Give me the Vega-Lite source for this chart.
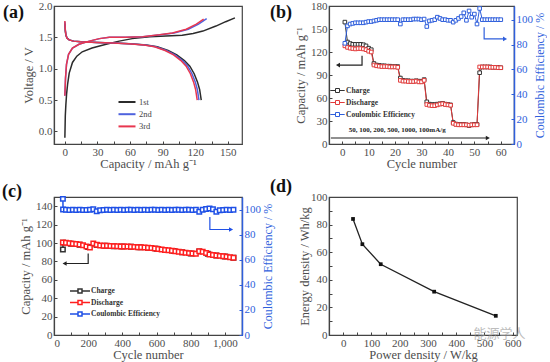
{
 "$schema": "https://vega.github.io/schema/vega-lite/v6.json",
 "background": "white",
 "padding": {"left": 1, "top": -1, "right": 0, "bottom": 0},
 "columns": 2,
 "spacing": {"row": 6, "column": -6},
 "resolve": {"scale": {"stroke": "independent", "color": "independent"}, "legend": {"stroke": "independent", "color": "independent"}},
 "datasets": {
  "a": [
   {"c":"1st","s":"1c","i":0,"x":0,"v":-0.1},{"c":"1st","s":"1c","i":1,"x":0.4,"v":0.25},{"c":"1st","s":"1c","i":2,"x":0.9,"v":0.42},{"c":"1st","s":"1c","i":3,"x":1.6,"v":0.6},{"c":"1st","s":"1c","i":4,"x":2.5,"v":0.75},{"c":"1st","s":"1c","i":5,"x":4,"v":0.93},{"c":"1st","s":"1c","i":6,"x":7,"v":1.1},{"c":"1st","s":"1c","i":7,"x":11,"v":1.2},{"c":"1st","s":"1c","i":8,"x":16,"v":1.27},{"c":"1st","s":"1c","i":9,"x":25,"v":1.33},{"c":"1st","s":"1c","i":10,"x":38,"v":1.39},{"c":"1st","s":"1c","i":11,"x":50,"v":1.44},{"c":"1st","s":"1c","i":12,"x":62,"v":1.48},{"c":"1st","s":"1c","i":13,"x":78,"v":1.51},{"c":"1st","s":"1c","i":14,"x":93,"v":1.52},{"c":"1st","s":"1c","i":15,"x":108,"v":1.535},{"c":"1st","s":"1c","i":16,"x":118,"v":1.56},{"c":"1st","s":"1c","i":17,"x":127,"v":1.6},{"c":"1st","s":"1c","i":18,"x":139,"v":1.68},{"c":"1st","s":"1c","i":19,"x":148,"v":1.75},{"c":"1st","s":"1c","i":20,"x":156.5,"v":1.81},
   {"c":"1st","s":"1d","i":0,"x":0,"v":1.72},{"c":"1st","s":"1d","i":1,"x":0.4,"v":1.6},{"c":"1st","s":"1d","i":2,"x":1,"v":1.53},{"c":"1st","s":"1d","i":3,"x":2,"v":1.49},{"c":"1st","s":"1d","i":4,"x":4,"v":1.46},{"c":"1st","s":"1d","i":5,"x":8,"v":1.44},{"c":"1st","s":"1d","i":6,"x":15,"v":1.43},{"c":"1st","s":"1d","i":7,"x":30,"v":1.42},{"c":"1st","s":"1d","i":8,"x":45,"v":1.41},{"c":"1st","s":"1d","i":9,"x":60,"v":1.4},{"c":"1st","s":"1d","i":10,"x":75,"v":1.38},{"c":"1st","s":"1d","i":11,"x":85,"v":1.35},{"c":"1st","s":"1d","i":12,"x":95,"v":1.29},{"c":"1st","s":"1d","i":13,"x":103,"v":1.22},{"c":"1st","s":"1d","i":14,"x":110,"v":1.13},{"c":"1st","s":"1d","i":15,"x":115,"v":1.04},{"c":"1st","s":"1d","i":16,"x":119,"v":0.92},{"c":"1st","s":"1d","i":17,"x":122,"v":0.79},{"c":"1st","s":"1d","i":18,"x":124,"v":0.67},{"c":"1st","s":"1d","i":19,"x":125.5,"v":0.5},
   {"c":"2nd","s":"2c","i":0,"x":0,"v":0.57},{"c":"2nd","s":"2c","i":1,"x":0.6,"v":0.85},{"c":"2nd","s":"2c","i":2,"x":1.5,"v":1.07},{"c":"2nd","s":"2c","i":3,"x":3.4,"v":1.23},{"c":"2nd","s":"2c","i":4,"x":7,"v":1.33},{"c":"2nd","s":"2c","i":5,"x":13,"v":1.39},{"c":"2nd","s":"2c","i":6,"x":22.5,"v":1.44},{"c":"2nd","s":"2c","i":7,"x":32,"v":1.48},{"c":"2nd","s":"2c","i":8,"x":41,"v":1.5},{"c":"2nd","s":"2c","i":9,"x":56,"v":1.5},{"c":"2nd","s":"2c","i":10,"x":72,"v":1.51},{"c":"2nd","s":"2c","i":11,"x":88,"v":1.54},{"c":"2nd","s":"2c","i":12,"x":100.5,"v":1.57},{"c":"2nd","s":"2c","i":13,"x":113.5,"v":1.63},{"c":"2nd","s":"2c","i":14,"x":123,"v":1.71},{"c":"2nd","s":"2c","i":15,"x":130.5,"v":1.8},
   {"c":"2nd","s":"2d","i":0,"x":0,"v":1.75},{"c":"2nd","s":"2d","i":1,"x":0.4,"v":1.62},{"c":"2nd","s":"2d","i":2,"x":1,"v":1.54},{"c":"2nd","s":"2d","i":3,"x":2,"v":1.49},{"c":"2nd","s":"2d","i":4,"x":3.9,"v":1.46},{"c":"2nd","s":"2d","i":5,"x":7.9,"v":1.44},{"c":"2nd","s":"2d","i":6,"x":14.7,"v":1.43},{"c":"2nd","s":"2d","i":7,"x":29.5,"v":1.42},{"c":"2nd","s":"2d","i":8,"x":44.2,"v":1.41},{"c":"2nd","s":"2d","i":9,"x":59,"v":1.4},{"c":"2nd","s":"2d","i":10,"x":73.7,"v":1.38},{"c":"2nd","s":"2d","i":11,"x":83.6,"v":1.35},{"c":"2nd","s":"2d","i":12,"x":93.4,"v":1.29},{"c":"2nd","s":"2d","i":13,"x":101.3,"v":1.22},{"c":"2nd","s":"2d","i":14,"x":108.2,"v":1.13},{"c":"2nd","s":"2d","i":15,"x":113.1,"v":1.04},{"c":"2nd","s":"2d","i":16,"x":117,"v":0.92},{"c":"2nd","s":"2d","i":17,"x":120,"v":0.79},{"c":"2nd","s":"2d","i":18,"x":121.9,"v":0.67},{"c":"2nd","s":"2d","i":19,"x":123.4,"v":0.5},
   {"c":"3rd","s":"3c","i":0,"x":0,"v":0.57},{"c":"3rd","s":"3c","i":1,"x":0.6,"v":0.85},{"c":"3rd","s":"3c","i":2,"x":1.5,"v":1.07},{"c":"3rd","s":"3c","i":3,"x":3.4,"v":1.23},{"c":"3rd","s":"3c","i":4,"x":7,"v":1.33},{"c":"3rd","s":"3c","i":5,"x":13,"v":1.39},{"c":"3rd","s":"3c","i":6,"x":22.5,"v":1.44},{"c":"3rd","s":"3c","i":7,"x":31.7,"v":1.48},{"c":"3rd","s":"3c","i":8,"x":41,"v":1.5},{"c":"3rd","s":"3c","i":9,"x":56,"v":1.5},{"c":"3rd","s":"3c","i":10,"x":71.7,"v":1.51},{"c":"3rd","s":"3c","i":11,"x":87,"v":1.54},{"c":"3rd","s":"3c","i":12,"x":99,"v":1.57},{"c":"3rd","s":"3c","i":13,"x":111.7,"v":1.63},{"c":"3rd","s":"3c","i":14,"x":121,"v":1.71},{"c":"3rd","s":"3c","i":15,"x":127.7,"v":1.79},
   {"c":"3rd","s":"3d","i":0,"x":0,"v":1.76},{"c":"3rd","s":"3d","i":1,"x":0.4,"v":1.62},{"c":"3rd","s":"3d","i":2,"x":1,"v":1.54},{"c":"3rd","s":"3d","i":3,"x":1.9,"v":1.49},{"c":"3rd","s":"3d","i":4,"x":3.9,"v":1.46},{"c":"3rd","s":"3d","i":5,"x":7.8,"v":1.44},{"c":"3rd","s":"3d","i":6,"x":14.6,"v":1.43},{"c":"3rd","s":"3d","i":7,"x":29.1,"v":1.42},{"c":"3rd","s":"3d","i":8,"x":43.7,"v":1.41},{"c":"3rd","s":"3d","i":9,"x":58.2,"v":1.4},{"c":"3rd","s":"3d","i":10,"x":72.8,"v":1.38},{"c":"3rd","s":"3d","i":11,"x":82.5,"v":1.35},{"c":"3rd","s":"3d","i":12,"x":92.2,"v":1.29},{"c":"3rd","s":"3d","i":13,"x":100,"v":1.22},{"c":"3rd","s":"3d","i":14,"x":106.8,"v":1.13},{"c":"3rd","s":"3d","i":15,"x":111.6,"v":1.04},{"c":"3rd","s":"3d","i":16,"x":115.5,"v":0.92},{"c":"3rd","s":"3d","i":17,"x":118.4,"v":0.79},{"c":"3rd","s":"3d","i":18,"x":120.3,"v":0.67},{"c":"3rd","s":"3d","i":19,"x":121.8,"v":0.5}
  ],
  "bcap": [
   {"cycle":1,"series":"Charge","cap":159},{"cycle":2,"series":"Charge","cap":133},{"cycle":3,"series":"Charge","cap":131},{"cycle":4,"series":"Charge","cap":130},{"cycle":5,"series":"Charge","cap":130},{"cycle":6,"series":"Charge","cap":130},{"cycle":7,"series":"Charge","cap":130},{"cycle":8,"series":"Charge","cap":129.5},{"cycle":9,"series":"Charge","cap":128},{"cycle":10,"series":"Charge","cap":125},{"cycle":11,"series":"Charge","cap":123},
   {"cycle":12,"series":"Charge","cap":105},{"cycle":13,"series":"Charge","cap":103},{"cycle":14,"series":"Charge","cap":102.5},{"cycle":15,"series":"Charge","cap":102},{"cycle":16,"series":"Charge","cap":102},{"cycle":17,"series":"Charge","cap":101.5},{"cycle":18,"series":"Charge","cap":101.5},{"cycle":19,"series":"Charge","cap":101},{"cycle":20,"series":"Charge","cap":101},{"cycle":21,"series":"Charge","cap":101},
   {"cycle":22,"series":"Charge","cap":86},{"cycle":23,"series":"Charge","cap":83},{"cycle":24,"series":"Charge","cap":82.5},{"cycle":25,"series":"Charge","cap":82.5},{"cycle":26,"series":"Charge","cap":82},{"cycle":27,"series":"Charge","cap":82},{"cycle":28,"series":"Charge","cap":82.5},{"cycle":29,"series":"Charge","cap":82},{"cycle":30,"series":"Charge","cap":81.5},{"cycle":31,"series":"Charge","cap":84},
   {"cycle":32,"series":"Charge","cap":55},{"cycle":33,"series":"Charge","cap":52},{"cycle":34,"series":"Charge","cap":51.5},{"cycle":35,"series":"Charge","cap":51.5},{"cycle":36,"series":"Charge","cap":52},{"cycle":37,"series":"Charge","cap":52.5},{"cycle":38,"series":"Charge","cap":53},{"cycle":39,"series":"Charge","cap":52},{"cycle":40,"series":"Charge","cap":51.5},{"cycle":41,"series":"Charge","cap":51},
   {"cycle":42,"series":"Charge","cap":28},{"cycle":43,"series":"Charge","cap":26},{"cycle":44,"series":"Charge","cap":25.5},{"cycle":45,"series":"Charge","cap":25.5},{"cycle":46,"series":"Charge","cap":25.5},{"cycle":47,"series":"Charge","cap":25},{"cycle":48,"series":"Charge","cap":24},{"cycle":49,"series":"Charge","cap":25},{"cycle":50,"series":"Charge","cap":25.5},{"cycle":51,"series":"Charge","cap":25.5},
   {"cycle":52,"series":"Charge","cap":93},{"cycle":53,"series":"Charge","cap":100.5},{"cycle":54,"series":"Charge","cap":100.5},{"cycle":55,"series":"Charge","cap":100.5},{"cycle":56,"series":"Charge","cap":100.5},{"cycle":57,"series":"Charge","cap":100},{"cycle":58,"series":"Charge","cap":100},{"cycle":59,"series":"Charge","cap":100},{"cycle":60,"series":"Charge","cap":99.5},
   {"cycle":1,"series":"Discharge","cap":128},{"cycle":2,"series":"Discharge","cap":126},{"cycle":3,"series":"Discharge","cap":125},{"cycle":4,"series":"Discharge","cap":124.5},{"cycle":5,"series":"Discharge","cap":124},{"cycle":6,"series":"Discharge","cap":124.5},{"cycle":7,"series":"Discharge","cap":124.5},{"cycle":8,"series":"Discharge","cap":124},{"cycle":9,"series":"Discharge","cap":123},{"cycle":10,"series":"Discharge","cap":121},{"cycle":11,"series":"Discharge","cap":120},
   {"cycle":12,"series":"Discharge","cap":103},{"cycle":13,"series":"Discharge","cap":102},{"cycle":14,"series":"Discharge","cap":101.5},{"cycle":15,"series":"Discharge","cap":101},{"cycle":16,"series":"Discharge","cap":101},{"cycle":17,"series":"Discharge","cap":101},{"cycle":18,"series":"Discharge","cap":100.5},{"cycle":19,"series":"Discharge","cap":100.5},{"cycle":20,"series":"Discharge","cap":100.5},{"cycle":21,"series":"Discharge","cap":100},
   {"cycle":22,"series":"Discharge","cap":83},{"cycle":23,"series":"Discharge","cap":82},{"cycle":24,"series":"Discharge","cap":82},{"cycle":25,"series":"Discharge","cap":81.5},{"cycle":26,"series":"Discharge","cap":81.5},{"cycle":27,"series":"Discharge","cap":81.5},{"cycle":28,"series":"Discharge","cap":82},{"cycle":29,"series":"Discharge","cap":81},{"cycle":30,"series":"Discharge","cap":81},{"cycle":31,"series":"Discharge","cap":83},
   {"cycle":32,"series":"Discharge","cap":51.5},{"cycle":33,"series":"Discharge","cap":50.5},{"cycle":34,"series":"Discharge","cap":50},{"cycle":35,"series":"Discharge","cap":50},{"cycle":36,"series":"Discharge","cap":51},{"cycle":37,"series":"Discharge","cap":52},{"cycle":38,"series":"Discharge","cap":52.5},{"cycle":39,"series":"Discharge","cap":51.5},{"cycle":40,"series":"Discharge","cap":51},{"cycle":41,"series":"Discharge","cap":50.5},
   {"cycle":42,"series":"Discharge","cap":27},{"cycle":43,"series":"Discharge","cap":25.5},{"cycle":44,"series":"Discharge","cap":25},{"cycle":45,"series":"Discharge","cap":25},{"cycle":46,"series":"Discharge","cap":25},{"cycle":47,"series":"Discharge","cap":25},{"cycle":48,"series":"Discharge","cap":24.5},{"cycle":49,"series":"Discharge","cap":25},{"cycle":50,"series":"Discharge","cap":25},{"cycle":51,"series":"Discharge","cap":25},
   {"cycle":52,"series":"Discharge","cap":100.5},{"cycle":53,"series":"Discharge","cap":100.5},{"cycle":54,"series":"Discharge","cap":100.5},{"cycle":55,"series":"Discharge","cap":100.5},{"cycle":56,"series":"Discharge","cap":100},{"cycle":57,"series":"Discharge","cap":100},{"cycle":58,"series":"Discharge","cap":100},{"cycle":59,"series":"Discharge","cap":99.5},{"cycle":60,"series":"Discharge","cap":99.5}
  ],
  "bce": [
   {"cycle":1,"series":"Coulombic Efficiency","ce":81},{"cycle":2,"series":"Coulombic Efficiency","ce":95},{"cycle":3,"series":"Coulombic Efficiency","ce":96.5},{"cycle":4,"series":"Coulombic Efficiency","ce":97},{"cycle":5,"series":"Coulombic Efficiency","ce":97.5},{"cycle":6,"series":"Coulombic Efficiency","ce":97.5},{"cycle":7,"series":"Coulombic Efficiency","ce":97.5},{"cycle":8,"series":"Coulombic Efficiency","ce":97.5},{"cycle":9,"series":"Coulombic Efficiency","ce":98},{"cycle":10,"series":"Coulombic Efficiency","ce":98.5},{"cycle":11,"series":"Coulombic Efficiency","ce":98.5},{"cycle":12,"series":"Coulombic Efficiency","ce":99},{"cycle":13,"series":"Coulombic Efficiency","ce":99.5},{"cycle":14,"series":"Coulombic Efficiency","ce":100},{"cycle":15,"series":"Coulombic Efficiency","ce":100},{"cycle":16,"series":"Coulombic Efficiency","ce":100},{"cycle":17,"series":"Coulombic Efficiency","ce":100},{"cycle":18,"series":"Coulombic Efficiency","ce":100},{"cycle":19,"series":"Coulombic Efficiency","ce":100},{"cycle":20,"series":"Coulombic Efficiency","ce":100},{"cycle":21,"series":"Coulombic Efficiency","ce":100},
   {"cycle":22,"series":"Coulombic Efficiency","ce":96.5},{"cycle":23,"series":"Coulombic Efficiency","ce":100},{"cycle":24,"series":"Coulombic Efficiency","ce":100},{"cycle":25,"series":"Coulombic Efficiency","ce":100},{"cycle":26,"series":"Coulombic Efficiency","ce":100},{"cycle":27,"series":"Coulombic Efficiency","ce":100.5},{"cycle":28,"series":"Coulombic Efficiency","ce":100.5},{"cycle":29,"series":"Coulombic Efficiency","ce":100.5},{"cycle":30,"series":"Coulombic Efficiency","ce":100},{"cycle":31,"series":"Coulombic Efficiency","ce":100.5},
   {"cycle":32,"series":"Coulombic Efficiency","ce":94.5},{"cycle":33,"series":"Coulombic Efficiency","ce":99},{"cycle":34,"series":"Coulombic Efficiency","ce":99.5},{"cycle":35,"series":"Coulombic Efficiency","ce":100},{"cycle":36,"series":"Coulombic Efficiency","ce":102},{"cycle":37,"series":"Coulombic Efficiency","ce":101},{"cycle":38,"series":"Coulombic Efficiency","ce":100},{"cycle":39,"series":"Coulombic Efficiency","ce":100},{"cycle":40,"series":"Coulombic Efficiency","ce":99.5},{"cycle":41,"series":"Coulombic Efficiency","ce":99.5},
   {"cycle":42,"series":"Coulombic Efficiency","ce":98},{"cycle":43,"series":"Coulombic Efficiency","ce":99.5},{"cycle":44,"series":"Coulombic Efficiency","ce":101},{"cycle":45,"series":"Coulombic Efficiency","ce":102.5},{"cycle":46,"series":"Coulombic Efficiency","ce":105.5},{"cycle":47,"series":"Coulombic Efficiency","ce":99.5},{"cycle":48,"series":"Coulombic Efficiency","ce":107},{"cycle":49,"series":"Coulombic Efficiency","ce":102},{"cycle":50,"series":"Coulombic Efficiency","ce":104.5},{"cycle":51,"series":"Coulombic Efficiency","ce":96.5},
   {"cycle":52,"series":"Coulombic Efficiency","ce":109},{"cycle":53,"series":"Coulombic Efficiency","ce":100},{"cycle":54,"series":"Coulombic Efficiency","ce":100},{"cycle":55,"series":"Coulombic Efficiency","ce":100},{"cycle":56,"series":"Coulombic Efficiency","ce":100},{"cycle":57,"series":"Coulombic Efficiency","ce":100},{"cycle":58,"series":"Coulombic Efficiency","ce":100},{"cycle":59,"series":"Coulombic Efficiency","ce":100},{"cycle":60,"series":"Coulombic Efficiency","ce":100}
  ],
  "barrL": [
   {"g":"k","i":0,"cycle":7.5,"cap":115},{"g":"k","i":1,"cycle":7.5,"cap":103},{"g":"k","i":2,"cycle":-1,"cap":103},
   {"g":"r","i":0,"cycle":-4.3,"cap":7.8},{"g":"r","i":1,"cycle":54.5,"cap":7.8}
  ],
  "bheadL": [
   {"cycle":-1.6,"cap":103,"shape":"triangle-left"},{"cycle":55.1,"cap":7.8,"shape":"triangle-right"}
  ],
  "btext": [
   {"cycle":2.5,"cap":18,"t":"50, 100, 200, 500, 1000, 100mA/g"}
  ],
  "barrR": [
   {"g":"b","i":0,"cycle":53.7,"ce":94},{"g":"b","i":1,"cycle":53.7,"ce":84.5},{"g":"b","i":2,"cycle":61,"ce":84.5}
  ],
  "bheadR": [
   {"cycle":61.6,"ce":84.5,"shape":"triangle-right"}
  ],
  "ccap": [
   {"cycle":52,"series":"Charge","cap":93},{"cycle":53,"series":"Charge","cap":100.4},{"cycle":100,"series":"Charge","cap":99.2},{"cycle":150,"series":"Charge","cap":98.2},{"cycle":200,"series":"Charge","cap":95.6},{"cycle":250,"series":"Charge","cap":97.9},{"cycle":300,"series":"Charge","cap":96.9},{"cycle":350,"series":"Charge","cap":96.5},{"cycle":400,"series":"Charge","cap":96.2},{"cycle":450,"series":"Charge","cap":95.9},{"cycle":500,"series":"Charge","cap":95.3},{"cycle":550,"series":"Charge","cap":94.7},{"cycle":600,"series":"Charge","cap":93.7},{"cycle":650,"series":"Charge","cap":92.4},{"cycle":700,"series":"Charge","cap":91.2},{"cycle":750,"series":"Charge","cap":89.9},{"cycle":800,"series":"Charge","cap":88.7},{"cycle":850,"series":"Charge","cap":90.9},{"cycle":900,"series":"Charge","cap":88.4},{"cycle":950,"series":"Charge","cap":86.4},{"cycle":1000,"series":"Charge","cap":85.3},{"cycle":1050,"series":"Charge","cap":83.9},
   {"cycle":52,"series":"Discharge","cap":100.5},{"cycle":70,"series":"Discharge","cap":100.2},{"cycle":90,"series":"Discharge","cap":99.8},{"cycle":110,"series":"Discharge","cap":99.3},{"cycle":130,"series":"Discharge","cap":98.8},{"cycle":150,"series":"Discharge","cap":98.3},{"cycle":170,"series":"Discharge","cap":97.6},{"cycle":190,"series":"Discharge","cap":96.3},{"cycle":210,"series":"Discharge","cap":95.2},{"cycle":230,"series":"Discharge","cap":99.6},{"cycle":250,"series":"Discharge","cap":98},{"cycle":270,"series":"Discharge","cap":97.2},{"cycle":290,"series":"Discharge","cap":97},{"cycle":310,"series":"Discharge","cap":97},{"cycle":330,"series":"Discharge","cap":96.8},{"cycle":350,"series":"Discharge","cap":96.6},{"cycle":370,"series":"Discharge","cap":96.5},{"cycle":390,"series":"Discharge","cap":96.3},{"cycle":410,"series":"Discharge","cap":96.2},{"cycle":430,"series":"Discharge","cap":96.1},{"cycle":450,"series":"Discharge","cap":96},{"cycle":470,"series":"Discharge","cap":95.8},{"cycle":490,"series":"Discharge","cap":95.5},{"cycle":510,"series":"Discharge","cap":95.3},{"cycle":530,"series":"Discharge","cap":95},{"cycle":550,"series":"Discharge","cap":94.8},{"cycle":570,"series":"Discharge","cap":94.5},{"cycle":590,"series":"Discharge","cap":94},{"cycle":610,"series":"Discharge","cap":93.5},{"cycle":630,"series":"Discharge","cap":93},{"cycle":650,"series":"Discharge","cap":92.5},{"cycle":670,"series":"Discharge","cap":92},{"cycle":690,"series":"Discharge","cap":91.5},{"cycle":710,"series":"Discharge","cap":91},{"cycle":730,"series":"Discharge","cap":90.5},{"cycle":750,"series":"Discharge","cap":90},{"cycle":770,"series":"Discharge","cap":89.5},{"cycle":790,"series":"Discharge","cap":89},{"cycle":810,"series":"Discharge","cap":88.6},{"cycle":830,"series":"Discharge","cap":88.3},{"cycle":850,"series":"Discharge","cap":91},{"cycle":870,"series":"Discharge","cap":90.6},{"cycle":890,"series":"Discharge","cap":89.2},{"cycle":910,"series":"Discharge","cap":87.6},{"cycle":930,"series":"Discharge","cap":87},{"cycle":950,"series":"Discharge","cap":86.5},{"cycle":970,"series":"Discharge","cap":86},{"cycle":990,"series":"Discharge","cap":85.6},{"cycle":1010,"series":"Discharge","cap":85.2},{"cycle":1030,"series":"Discharge","cap":84.6},{"cycle":1050,"series":"Discharge","cap":84}
  ],
  "cce": [
   {"cycle":52,"series":"Coulombic Efficiency","ce":108.5},{"cycle":53,"series":"Coulombic Efficiency","ce":100},{"cycle":70,"series":"Coulombic Efficiency","ce":99.8},{"cycle":90,"series":"Coulombic Efficiency","ce":99.6},{"cycle":110,"series":"Coulombic Efficiency","ce":99.8},{"cycle":130,"series":"Coulombic Efficiency","ce":99.7},{"cycle":150,"series":"Coulombic Efficiency","ce":99.8},{"cycle":170,"series":"Coulombic Efficiency","ce":99.6},{"cycle":190,"series":"Coulombic Efficiency","ce":99.7},{"cycle":210,"series":"Coulombic Efficiency","ce":99.8},{"cycle":230,"series":"Coulombic Efficiency","ce":100.3},{"cycle":250,"series":"Coulombic Efficiency","ce":98.6},{"cycle":270,"series":"Coulombic Efficiency","ce":99.5},{"cycle":290,"series":"Coulombic Efficiency","ce":99.7},{"cycle":310,"series":"Coulombic Efficiency","ce":99.8},{"cycle":330,"series":"Coulombic Efficiency","ce":99.7},{"cycle":350,"series":"Coulombic Efficiency","ce":99.8},{"cycle":370,"series":"Coulombic Efficiency","ce":99.7},{"cycle":390,"series":"Coulombic Efficiency","ce":99.8},{"cycle":410,"series":"Coulombic Efficiency","ce":99.7},{"cycle":430,"series":"Coulombic Efficiency","ce":99.8},{"cycle":450,"series":"Coulombic Efficiency","ce":99.9},{"cycle":470,"series":"Coulombic Efficiency","ce":99.7},{"cycle":490,"series":"Coulombic Efficiency","ce":99.8},{"cycle":510,"series":"Coulombic Efficiency","ce":99.7},{"cycle":530,"series":"Coulombic Efficiency","ce":99.8},{"cycle":550,"series":"Coulombic Efficiency","ce":99.7},{"cycle":570,"series":"Coulombic Efficiency","ce":99.8},{"cycle":590,"series":"Coulombic Efficiency","ce":99.9},{"cycle":610,"series":"Coulombic Efficiency","ce":99.7},{"cycle":630,"series":"Coulombic Efficiency","ce":99.8},{"cycle":650,"series":"Coulombic Efficiency","ce":99.7},{"cycle":670,"series":"Coulombic Efficiency","ce":99.8},{"cycle":690,"series":"Coulombic Efficiency","ce":99.7},{"cycle":710,"series":"Coulombic Efficiency","ce":99.9},{"cycle":730,"series":"Coulombic Efficiency","ce":99.8},{"cycle":750,"series":"Coulombic Efficiency","ce":99.7},{"cycle":770,"series":"Coulombic Efficiency","ce":99.9},{"cycle":790,"series":"Coulombic Efficiency","ce":99.8},{"cycle":810,"series":"Coulombic Efficiency","ce":99.7},{"cycle":830,"series":"Coulombic Efficiency","ce":99.8},{"cycle":850,"series":"Coulombic Efficiency","ce":98.3},{"cycle":870,"series":"Coulombic Efficiency","ce":99.8},{"cycle":890,"series":"Coulombic Efficiency","ce":100.5},{"cycle":910,"series":"Coulombic Efficiency","ce":100.8},{"cycle":930,"series":"Coulombic Efficiency","ce":100.2},{"cycle":950,"series":"Coulombic Efficiency","ce":98.2},{"cycle":970,"series":"Coulombic Efficiency","ce":99.5},{"cycle":990,"series":"Coulombic Efficiency","ce":99.7},{"cycle":1010,"series":"Coulombic Efficiency","ce":99.8},{"cycle":1030,"series":"Coulombic Efficiency","ce":99.7},{"cycle":1050,"series":"Coulombic Efficiency","ce":99.8}
  ],
  "carrL": [
   {"g":"k","i":0,"cycle":200,"cap":88.6},{"g":"k","i":1,"cycle":200,"cap":77.7},{"g":"k","i":2,"cycle":70,"cap":77.7}
  ],
  "cheadL": [
   {"cycle":62,"cap":77.7,"shape":"triangle-left"}
  ],
  "carrR": [
   {"g":"b","i":0,"cycle":912,"ce":94.1},{"g":"b","i":1,"cycle":912,"ce":84.1},{"g":"b","i":2,"cycle":1028,"ce":84.1}
  ],
  "cheadR": [
   {"cycle":1036,"ce":84.1,"shape":"triangle-right"}
  ],
  "d": [
   {"p":35,"e":84.1},{"p":68,"e":65.8},{"p":133,"e":51.3},{"p":322,"e":31.4},{"p":540,"e":13.9}
  ],
  "dwm": [
   {"p":553,"e":1,"t":"能源学人"}
  ]
 },
 "concat": [
  {
   "width": 188, "height": 138,
   "title": {"text": "(a)", "dx": -51, "dy": 26},
   "data": {"name": "a"},
   "mark": {"type": "line", "strokeWidth": 1.5, "clip": true},
   "encoding": {
    "x": {"field": "x", "type": "quantitative", "scale": {"domain": [-10, 163], "nice": false, "zero": false},
          "axis": {"title": "Capacity / mAh g⁻¹", "tickCount": 40, "labelOverlap": false, "values": [0,15,30,45,60,75,90,105,120,135,150], "labelExpr": "datum.value % 30 === 0 ? datum.label : ''"}},
    "y": {"field": "v", "type": "quantitative", "scale": {"domain": [-0.2, 2.0], "nice": false, "zero": false},
          "axis": {"title": "Voltage / V", "tickCount": 40, "labelOverlap": false, "values": [0, 0.5, 1, 1.5, 2], "format": ".1f"}},
    "color": {"field": "c", "type": "nominal", "scale": {"domain": ["1st", "2nd", "3rd"], "range": ["#2b2b2b", "#4f63de", "#e8364f"]},
              "legend": {"orient": "none", "legendX": 67, "legendY": 90, "title": null, "padding": 0, "symbolType": "M-1.7,0H1.7", "symbolSize": 100, "symbolStrokeWidth": 2, "labelFontSize": 8.5, "labelColor": "#444", "labelOffset": 6, "rowPadding": 1.2}},
    "detail": {"field": "s"},
    "order": {"field": "i", "type": "quantitative"}
   }
  },
  {
   "width": 185, "height": 138,
   "title": {"text": "(b)", "dx": -59, "dy": 26},
   "layer": [
    {"layer": [
     {"data": {"name": "bcap"}, "mark": {"type": "line", "strokeWidth": 1},
      "encoding": {
       "x": {"field": "cycle", "type": "quantitative", "scale": {"domain": [-5, 65], "nice": false, "zero": false},
             "axis": {"title": "Cycle number", "tickCount": 40, "labelOverlap": false, "values": [0,5,10,15,20,25,30,35,40,45,50,55,60], "labelExpr": "datum.value % 10 === 0 ? datum.label : ''"}},
       "y": {"field": "cap", "type": "quantitative", "scale": {"domain": [0, 180], "nice": false},
             "axis": {"orient": "left", "tickCount": 40, "labelOverlap": false, "title": "Capacity / mAh g⁻¹", "values": [0,30,60,90,120,150,180]}},
       "stroke": {"field": "series", "type": "nominal", "scale": {"domain": ["Charge", "Discharge", "Coulombic Efficiency"], "range": ["#333333", "#e23b3b", "#2f5fdc"]},
                  "legend": {"orient": "none", "legendX": 4, "legendY": 80, "title": null, "padding": 0, "symbolType": "M-1.8,0H-0.5M0.5,0H1.8M-0.5,-0.5H0.5V0.5H-0.5Z", "symbolSize": 64, "symbolStrokeWidth": 1, "symbolFillColor": "white", "labelFontSize": 7.5, "labelFontWeight": "bold", "labelColor": "#333", "labelOffset": 4, "rowPadding": 3}}
      }},
     {"data": {"name": "bcap"}, "mark": {"type": "point", "shape": "square", "filled": true, "fill": "white", "size": 13, "strokeWidth": 1, "opacity": 1},
      "encoding": {
       "x": {"field": "cycle", "type": "quantitative"},
       "y": {"field": "cap", "type": "quantitative"},
       "stroke": {"field": "series", "type": "nominal"}
      }},
     {"data": {"name": "barrL"}, "mark": {"type": "line", "color": "#222", "strokeWidth": 1.2},
      "encoding": {
       "x": {"field": "cycle", "type": "quantitative"},
       "y": {"field": "cap", "type": "quantitative"},
       "detail": {"field": "g"},
       "order": {"field": "i", "type": "quantitative"}
      }},
     {"data": {"name": "bheadL"}, "mark": {"type": "point", "filled": true, "color": "#222", "size": 22, "opacity": 1},
      "encoding": {
       "x": {"field": "cycle", "type": "quantitative"},
       "y": {"field": "cap", "type": "quantitative"},
       "shape": {"field": "shape", "type": "nominal", "scale": null}
      }},
     {"data": {"name": "btext"}, "mark": {"type": "text", "align": "left", "baseline": "middle", "fontWeight": "bold", "fontSize": 7, "color": "#222"},
      "encoding": {
       "x": {"field": "cycle", "type": "quantitative"},
       "y": {"field": "cap", "type": "quantitative"},
       "text": {"field": "t"}
      }}
    ]},
    {"layer": [
     {"data": {"name": "bce"}, "mark": {"type": "line", "strokeWidth": 1},
      "encoding": {
       "x": {"field": "cycle", "type": "quantitative"},
       "y": {"field": "ce", "type": "quantitative", "scale": {"domain": [0, 111], "nice": false},
             "axis": {"orient": "right", "tickCount": 40, "labelOverlap": false, "title": "Coulombic Efficiency / %", "values": [0,20,40,60,80,100], "labelColor": "#2f5fdc", "titleColor": "#2f5fdc", "domainColor": "#2f5fdc", "tickColor": "#2f5fdc", "domainWidth": 1.5, "titleAngle": 270, "titleBaseline": "top", "titlePadding": 2, "titleFontSize": 12}},
       "stroke": {"field": "series", "type": "nominal"}
      }},
     {"data": {"name": "bce"}, "mark": {"type": "point", "shape": "square", "filled": true, "fill": "white", "size": 13, "strokeWidth": 1, "opacity": 1},
      "encoding": {
       "x": {"field": "cycle", "type": "quantitative"},
       "y": {"field": "ce", "type": "quantitative"},
       "stroke": {"field": "series", "type": "nominal"}
      }},
     {"data": {"name": "barrR"}, "mark": {"type": "line", "color": "#2f5fdc", "strokeWidth": 1.2},
      "encoding": {
       "x": {"field": "cycle", "type": "quantitative"},
       "y": {"field": "ce", "type": "quantitative"},
       "detail": {"field": "g"},
       "order": {"field": "i", "type": "quantitative"}
      }},
     {"data": {"name": "bheadR"}, "mark": {"type": "point", "filled": true, "color": "#2f5fdc", "size": 22, "opacity": 1},
      "encoding": {
       "x": {"field": "cycle", "type": "quantitative"},
       "y": {"field": "ce", "type": "quantitative"},
       "shape": {"field": "shape", "type": "nominal", "scale": null}
      }}
    ]}
   ],
   "resolve": {"scale": {"y": "independent"}}
  },
  {
   "width": 188, "height": 138,
   "title": {"text": "(c)", "dx": -52, "dy": 11},
   "layer": [
    {"layer": [
     {"data": {"name": "ccap"}, "mark": {"type": "line", "strokeWidth": 1.5},
      "encoding": {
       "x": {"field": "cycle", "type": "quantitative", "scale": {"domain": [0, 1100], "nice": false, "zero": false},
             "axis": {"title": "Cycle number", "tickCount": 40, "labelOverlap": false, "values": [0,100,200,300,400,500,600,700,800,900,1000], "labelExpr": "datum.value % 200 === 0 ? datum.label : ''"}},
       "y": {"field": "cap", "type": "quantitative", "scale": {"domain": [0, 150], "nice": false},
             "axis": {"orient": "left", "tickCount": 40, "labelOverlap": false, "title": "Capacity / mAh g⁻¹", "values": [0,20,40,60,80,100,120,140]}},
       "stroke": {"field": "series", "type": "nominal", "scale": {"domain": ["Charge", "Discharge", "Coulombic Efficiency"], "range": ["#333333", "#ff1f1f", "#1f50e6"]},
                  "legend": {"orient": "none", "legendX": 21, "legendY": 89, "title": null, "padding": 0, "symbolType": "M-2.5,0H-0.5M0.5,0H2.5M-0.5,-0.5H0.5V0.5H-0.5Z", "symbolSize": 64, "symbolStrokeWidth": 1.5, "symbolFillColor": "white", "labelFontSize": 7.5, "labelFontWeight": "bold", "labelColor": "#333", "labelOffset": 6, "rowPadding": 1.5}}
      }},
     {"data": {"name": "ccap"}, "mark": {"type": "point", "shape": "square", "filled": true, "fill": "white", "size": 20, "strokeWidth": 1.5, "opacity": 1},
      "encoding": {
       "x": {"field": "cycle", "type": "quantitative"},
       "y": {"field": "cap", "type": "quantitative"},
       "stroke": {"field": "series", "type": "nominal"}
      }},
     {"data": {"name": "carrL"}, "mark": {"type": "line", "color": "#222", "strokeWidth": 1.2},
      "encoding": {
       "x": {"field": "cycle", "type": "quantitative"},
       "y": {"field": "cap", "type": "quantitative"},
       "detail": {"field": "g"},
       "order": {"field": "i", "type": "quantitative"}
      }},
     {"data": {"name": "cheadL"}, "mark": {"type": "point", "filled": true, "color": "#222", "size": 22, "opacity": 1},
      "encoding": {
       "x": {"field": "cycle", "type": "quantitative"},
       "y": {"field": "cap", "type": "quantitative"},
       "shape": {"field": "shape", "type": "nominal", "scale": null}
      }}
    ]},
    {"layer": [
     {"data": {"name": "cce"}, "mark": {"type": "line", "strokeWidth": 1.5},
      "encoding": {
       "x": {"field": "cycle", "type": "quantitative"},
       "y": {"field": "ce", "type": "quantitative", "scale": {"domain": [0, 110], "nice": false},
             "axis": {"orient": "right", "tickCount": 40, "labelOverlap": false, "title": "Coulombic Efficiency / %", "values": [0,20,40,60,80,100], "labelColor": "#2f5fdc", "titleColor": "#2f5fdc", "domainColor": "#2f5fdc", "tickColor": "#2f5fdc", "domainWidth": 1.5, "titleAngle": 270, "titleBaseline": "top", "titlePadding": 2, "titleFontSize": 12}},
       "stroke": {"field": "series", "type": "nominal"}
      }},
     {"data": {"name": "cce"}, "mark": {"type": "point", "shape": "square", "filled": true, "fill": "white", "size": 20, "strokeWidth": 1.5, "opacity": 1},
      "encoding": {
       "x": {"field": "cycle", "type": "quantitative"},
       "y": {"field": "ce", "type": "quantitative"},
       "stroke": {"field": "series", "type": "nominal"}
      }},
     {"data": {"name": "carrR"}, "mark": {"type": "line", "color": "#1f50e6", "strokeWidth": 1.2},
      "encoding": {
       "x": {"field": "cycle", "type": "quantitative"},
       "y": {"field": "ce", "type": "quantitative"},
       "detail": {"field": "g"},
       "order": {"field": "i", "type": "quantitative"}
      }},
     {"data": {"name": "cheadR"}, "mark": {"type": "point", "filled": true, "color": "#1f50e6", "size": 22, "opacity": 1},
      "encoding": {
       "x": {"field": "cycle", "type": "quantitative"},
       "y": {"field": "ce", "type": "quantitative"},
       "shape": {"field": "shape", "type": "nominal", "scale": null}
      }}
    ]}
   ],
   "resolve": {"scale": {"y": "independent"}}
  },
  {
   "width": 188, "height": 138,
   "title": {"text": "(d)", "dx": -59, "dy": 9},
   "layer": [
    {"data": {"name": "d"},
     "mark": {"type": "line", "color": "#222", "strokeWidth": 1.3, "point": {"shape": "square", "filled": true, "size": 14, "color": "#111", "opacity": 1}},
     "encoding": {
      "x": {"field": "p", "type": "quantitative", "scale": {"domain": [-50, 615], "nice": false, "zero": false},
            "axis": {"title": "Power density / W/kg", "tickCount": 40, "labelOverlap": false, "values": [0,50,100,150,200,250,300,350,400,450,500,550,600], "labelExpr": "datum.value % 100 === 0 ? datum.label : ''"}},
      "y": {"field": "e", "type": "quantitative", "scale": {"domain": [0, 100], "nice": false},
            "axis": {"title": "Energy density / Wh/kg", "tickCount": 40, "labelOverlap": false, "values": [0,10,20,30,40,50,60,70,80,90,100], "labelExpr": "datum.value % 20 === 0 ? datum.label : ''", "titlePadding": -1}}
     }},
    {"data": {"name": "dwm"},
     "mark": {"type": "text", "font": "Noto Sans CJK SC", "fontSize": 13, "color": "#9a9a9a", "opacity": 0.65, "baseline": "middle"},
     "encoding": {
      "x": {"field": "p", "type": "quantitative"},
      "y": {"field": "e", "type": "quantitative"},
      "text": {"field": "t"}
     }}
   ]
  }
 ],
 "config": {
  "font": "Liberation Serif",
  "view": {"stroke": "#444", "strokeWidth": 1.2},
  "axis": {"grid": false, "labelOverlap": false, "labelFont": "Liberation Serif", "labelFontSize": 11, "labelColor": "#4d4d4d", "titleFont": "Liberation Serif", "titleFontSize": 12.5, "titleFontWeight": "normal", "titleColor": "#4d4d4d", "domainColor": "#444", "domainWidth": 1.2, "tickColor": "#444", "tickSize": -3, "labelPadding": 5},
  "axisX": {"titlePadding": 0},
  "axisY": {"titlePadding": 3},
  "legend": {"labelFont": "Liberation Serif"},
  "title": {"font": "Liberation Serif", "fontSize": 18, "fontWeight": "bold", "color": "#111", "anchor": "start", "frame": "group", "offset": 0}
 }
}
